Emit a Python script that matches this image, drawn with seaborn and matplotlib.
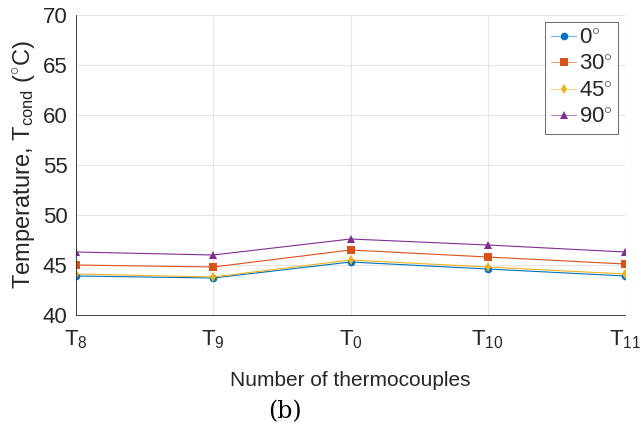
import matplotlib
matplotlib.use("Agg")
import matplotlib.pyplot as plt
import matplotlib.colors as mcolors
import seaborn as sns
import pandas as pd

positions = ["T8", "T9", "T0", "T10", "T11"]
tick_labels = ["T$_{8}$", "T$_{9}$", "T$_{0}$", "T$_{10}$", "T$_{11}$"]
angles = ["0$^{\\circ}$", "30$^{\\circ}$", "45$^{\\circ}$", "90$^{\\circ}$"]
temp_0 = [43.9, 43.7, 45.3, 44.6, 43.9]
temp_30 = [45.0, 44.8, 46.5, 45.8, 45.1]
temp_45 = [44.1, 43.8, 45.5, 44.8, 44.1]
temp_90 = [46.3, 46.0, 47.6, 47.0, 46.3]

series = [temp_0, temp_30, temp_45, temp_90]
rows = []
for a, vals in zip(angles, series):
    for i, (p, v) in enumerate(zip(positions, vals)):
        rows.append({"pos": i, "label": p, "angle": a, "temp": v})
df = pd.DataFrame(rows)

sns.set_style("white")
plt.rcParams['font.family'] = ['Liberation Sans', 'DejaVu Sans']
plt.rcParams['mathtext.fontset'] = 'custom'
plt.rcParams['mathtext.rm'] = 'Liberation Sans'
plt.rcParams['mathtext.it'] = 'Liberation Sans'

colors = ["#0072BD", "#D95319", "#EDB120", "#7E2F8E"]
markers = ["o", "s", "d", "^"]

fig = plt.figure(figsize=(6.41, 4.26), dpi=100)
ax = fig.add_axes([76/641, 1-315/426, (625-76)/641, (315-15)/426])

sns.lineplot(data=df, x="pos", y="temp", hue="angle", style="angle",
             palette=colors, markers=markers, dashes=False, ax=ax,
             linewidth=0.8, markersize=5.5, markeredgewidth=0, alpha=1,
             legend=False)

handles = []
for line, c in zip(ax.get_lines(), colors):
    r, g, b = mcolors.to_rgb(c)
    line.set_color((r, g, b, 0.45))
    line.set_markerfacecolor(c)
    line.set_markeredgecolor(c)
    h = plt.Line2D([], [], color=(r, g, b, 0.55), linewidth=0.8,
                   marker=line.get_marker(), markersize=5.5,
                   markerfacecolor=c, markeredgecolor=c, markeredgewidth=0)
    handles.append(h)

ax.set_xlim(0, 4)
ax.set_ylim(40, 70)
ax.set_xticks(range(5))
ax.set_xticklabels(tick_labels, fontsize=16, color="#262626")
ax.set_yticks(range(40, 71, 5))
ax.tick_params(axis='y', labelsize=16, labelcolor="#262626", pad=3)
ax.tick_params(axis='x', pad=7)
ax.tick_params(axis='both', direction='out', length=3, color="#262626", width=0.6)
ax.grid(True, color="#e6e6e6", linewidth=0.8)
ax.set_axisbelow(True)
for s in ["top", "right"]:
    ax.spines[s].set_visible(False)
for s in ["left", "bottom"]:
    ax.spines[s].set_color("#262626")
    ax.spines[s].set_linewidth(0.6)

ax.set_xlabel("Number of thermocouples", fontsize=15, color="#262626", labelpad=14)
ax.set_ylabel("Temperature, T$_{\\mathrm{cond}}$ ($^{\\circ}$C)", fontsize=17, color="#262626", labelpad=4)

leg = ax.legend(handles, angles, loc="upper right",
                bbox_to_anchor=((618-76)/549, (315-22)/300),
                fontsize=16, frameon=True, fancybox=False, edgecolor="#262626",
                borderpad=0.25, handlelength=1.15, handletextpad=0.1,
                labelspacing=0.25, borderaxespad=0)
leg.get_frame().set_linewidth(0.6)

fig.text(285/641, 1-412/426, "(b)", fontsize=17, ha="center", va="center",
         family=["DejaVu Serif"], color="#000000")

fig.savefig("out.png", dpi=100)
